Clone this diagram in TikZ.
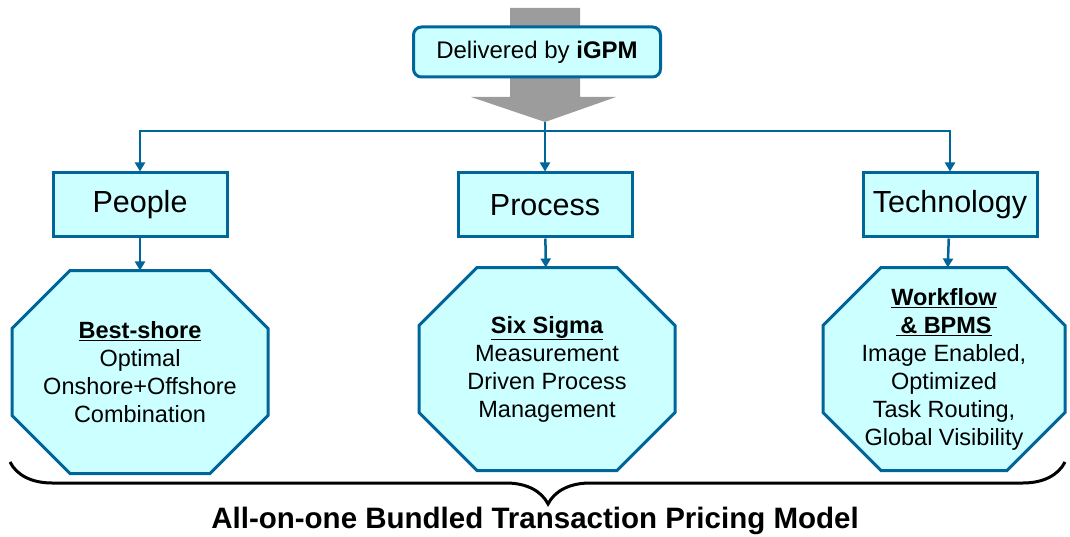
\documentclass[tikz,border=0pt]{standalone}
\usepackage{fontspec}
\setmainfont{Liberation Sans}
\usetikzlibrary{calc,backgrounds,arrows.meta,decorations.pathreplacing}
\definecolor{boxfill}{HTML}{CCFFFF}
\definecolor{boxline}{HTML}{006699}
\definecolor{arrowgray}{HTML}{9C9C9C}
\tikzset{
    title-box/.style = {draw=boxline, fill=boxfill, line width=3pt, rectangle, rounded corners=8pt, minimum width=247pt, minimum height=50pt, font=\fontsize{24}{28}\selectfont},
    pillar-box/.style = {draw=boxline, fill=boxfill, line width=3pt, rectangle, minimum width=174pt, minimum height=64pt, font=\fontsize{30.5}{34}\selectfont},
    octa-box/.style = {rectangle, outer sep=0pt, inner sep=0pt, minimum width=256pt, minimum height=203pt, align=center, font=\fontsize{23.5}{28}\selectfont},
    octa-line/.style = {draw=boxline, fill=boxfill, line width=3pt},
    link/.style = {draw=boxline, line width=2.5pt, -{Triangle[width=10pt,length=9pt]}},
}

\begin{document}
\begin{tikzpicture}[x=1pt,y=-1pt]
\useasboundingbox (0,0) rectangle (1070,537);
% big gray arrow behind the title
\fill[arrowgray] (510,8) -- (580,8) -- (580,97) -- (616,97) -- (545,122) -- (471,97) -- (510,97) -- cycle;
\coordinate (arrow-tip) at (545,122);
\coordinate (split) at (545,131);
\node[title-box] (delivered) at (537,52) {Delivered by \textbf{iGPM}};

\node[pillar-box] (people) at (140,205) {People};
\node[pillar-box] (process) at (545,205) {Process};
\node[pillar-box] (technology) at (950,205) {Technology};

\node[octa-box] (best-shore) at (140,372) {\textbf{\underline{Best-shore}}\\Optimal\\Onshore+Offshore\\Combination};
\node[octa-box] (six-sigma) at (547,369) {\textbf{\underline{Six Sigma}}\\Measurement\\Driven Process\\Management};
\node[octa-box, minimum width=242pt] (workflow) at (944,369) {\textbf{\underline{Workflow}}\\\textbf{\underline{\,\& BPMS}}\\Image Enabled,\\Optimized\\Task Routing,\\Global Visibility};

% octagon outlines behind the texts
\begin{scope}[on background layer]
\foreach \o in {best-shore,six-sigma,workflow}
    \path[octa-line] ($(\o.north west)+(58,0)$) -- ($(\o.north east)+(-58,0)$) -- ($(\o.north east)+(0,58)$)
        -- ($(\o.south east)+(0,-58)$) -- ($(\o.south east)+(-58,0)$) -- ($(\o.south west)+(58,0)$)
        -- ($(\o.south west)+(0,-58)$) -- ($(\o.north west)+(0,58)$) -- cycle;
\end{scope}

\draw[link] (arrow-tip) -- (process.north);
\draw[link] (split) -| (people.north);
\draw[link] (split) -| (technology.north);
\draw[link] (people) -- (best-shore);
\draw[link] (process) -- (six-sigma);
\draw[link] (technology) -- (workflow);

\coordinate (brace-left) at (10,462);
\coordinate (brace-right) at (1065,462);
\draw[decorate, decoration={brace, mirror, amplitude=42pt, aspect=0.51}, line width=3pt] (brace-left) -- (brace-right);
\node[font=\fontsize{29.5}{32}\selectfont\bfseries] (model) at (535,521) {All-on-one Bundled Transaction Pricing Model};
\end{tikzpicture}
\end{document}
